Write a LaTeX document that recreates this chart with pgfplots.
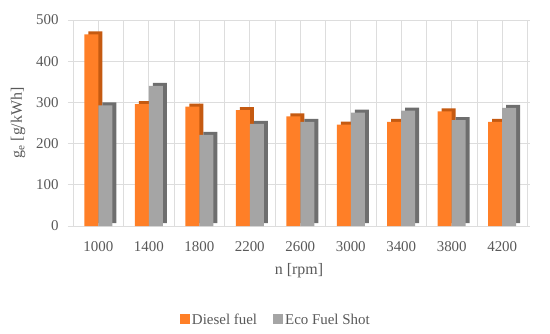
\documentclass[border=0pt]{standalone}
\usepackage{pgfplots}
\pgfplotsset{compat=1.18}
\usepackage{pgfplotstable}
\usepackage{fontspec}
\setmainfont{Liberation Serif}
\definecolor{dfront}{HTML}{FF7F27}
\definecolor{dside}{HTML}{C55A11}
\definecolor{efront}{HTML}{A5A5A5}
\definecolor{eside}{HTML}{6E6E6E}
\definecolor{txt}{HTML}{595959}
\definecolor{gridc}{HTML}{DDDDDD}
\pgfplotstableread{
x d e
0 465 293
1 296 340
2 290 221
3 281 248
4 266 253
5 246 275
6 253 280
7 278 257
8 253 287
}\data
\begin{document}
\begin{tikzpicture}
\begin{axis}[
  scale only axis, width=462bp, height=206bp,
  xmin=-0.6, xmax=8.55, ymin=0, ymax=500,
  ybar=0pt, bar width=14bp,
  xtick={0,...,8}, xticklabels={1000,1400,1800,2200,2600,3000,3400,3800,4200},
  minor xtick={-0.5,0.5,...,8.5},
  ytick={0,100,...,500},
  grid=both, major grid style={gridc, line width=0.8pt}, minor grid style={gridc, line width=0.8pt},
  axis line style={draw=none}, tick style={draw=none},
  tick label style={font=\fontsize{15}{17}\selectfont, text=txt},
  /pgf/number format/assume math mode=true,
  yticklabel style={xshift=-6bp},
  xticklabel style={yshift=-8bp},
  xlabel={n [rpm]}, ylabel={g$_\mathrm{e}$ [g/kWh]},
  label style={font=\fontsize{16}{18}\selectfont, text=txt},
  xlabel style={yshift=-5bp},
  ylabel style={yshift=4bp},
  legend style={at={(0.45,-0.455)}, anchor=center, draw=none, legend columns=2,
    font=\fontsize{15}{17}\selectfont, text=txt,
    /tikz/every even column/.append style={column sep=14bp}},
  legend image code/.code={\fill[#1] (0bp,-4.5bp) rectangle (10bp,5.5bp);},
  clip=false,
]
\addplot[fill=dside, draw=none, bar shift=-3bp, yshift=3bp, forget plot] table[x=x,y=d]{\data};
\addplot[fill=dfront, draw=none, bar shift=-7bp] table[x=x,y=d]{\data};
\addplot[fill=eside, draw=none, bar shift=11bp, yshift=3bp, forget plot] table[x=x,y=e]{\data};
\addplot[fill=efront, draw=none, bar shift=7bp] table[x=x,y=e]{\data};
\legend{Diesel fuel, Eco Fuel Shot}
\end{axis}
\path[use as bounding box] (-68bp,-108bp) rectangle (482bp,226bp);
\end{tikzpicture}
\end{document}
